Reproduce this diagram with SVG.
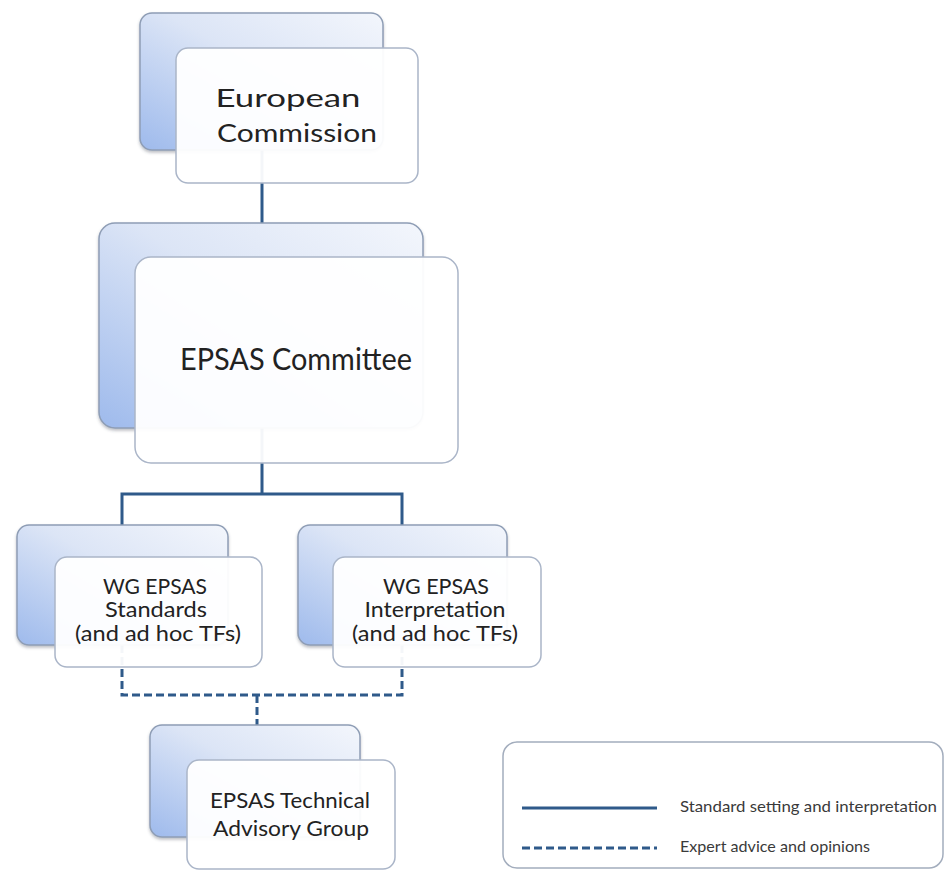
<svg xmlns="http://www.w3.org/2000/svg" width="945" height="871" viewBox="0 0 945 871">
<defs>
<linearGradient id="backGrad" x1="1" y1="0" x2="0" y2="1">
<stop offset="0" stop-color="#F3F6FC"/>
<stop offset="0.45" stop-color="#DCE5F6"/>
<stop offset="1" stop-color="#9EBAEC"/>
</linearGradient>
<filter id="shadow" x="-10%" y="-10%" width="120%" height="125%">
<feDropShadow dx="0" dy="2" stdDeviation="1.5" flood-color="#404A5A" flood-opacity="0.35"/>
</filter>
<style>
.back{fill:url(#backGrad);stroke:#8E9DB5;stroke-width:1.5;filter:url(#shadow)}
.front{fill:#FFFFFF;fill-opacity:0.95;stroke:#AAB5C8;stroke-width:1.5}
.solid{fill:none;stroke:#2F5A8A;stroke-width:3}
.dash{fill:none;stroke:#2F5A8A;stroke-width:3;stroke-dasharray:8 4}
.lbl{font-family:Lato,"Liberation Sans",sans-serif;fill:#222222;text-anchor:middle}
.leg{font-family:Lato,"Liberation Sans",sans-serif;fill:#3A3A3A;font-size:15px}
</style>
</defs>
<rect width="945" height="871" fill="#FFFFFF"/>

<g id="connectors">
<path class="solid" d="M262,150 V223"/>
<path class="solid" d="M262,428 V494 M122,525 V494 H402 V525"/>
<path class="dash" d="M122,645 V695 H402 V645 M257,695 V725"/>
</g>

<g id="european-commission">
<rect class="back" x="140" y="13" width="243" height="137" rx="12"/>
<rect class="front" x="176" y="48" width="242" height="135" rx="12"/>
<text class="lbl" font-size="25" x="288" y="107" textLength="145" lengthAdjust="spacingAndGlyphs">European</text>
<text class="lbl" font-size="25" x="297" y="142" textLength="160" lengthAdjust="spacingAndGlyphs">Commission</text>
</g>

<g id="epsas-committee">
<rect class="back" x="99" y="223" width="324" height="205" rx="16"/>
<rect class="front" x="135" y="257" width="323" height="206" rx="16"/>
<text class="lbl" font-size="30" x="296" y="370" textLength="232" lengthAdjust="spacingAndGlyphs">EPSAS Committee</text>
</g>

<g id="wg-standards">
<rect class="back" x="17" y="525" width="211" height="120" rx="12"/>
<rect class="front" x="55" y="557" width="207" height="110" rx="12"/>
<text class="lbl" font-size="21" x="155" y="594" textLength="104" lengthAdjust="spacingAndGlyphs">WG EPSAS</text>
<text class="lbl" font-size="21" x="156" y="617" textLength="102" lengthAdjust="spacingAndGlyphs">Standards</text>
<text class="lbl" font-size="21" x="158" y="641" textLength="166" lengthAdjust="spacingAndGlyphs">(and ad hoc TFs)</text>
</g>

<g id="wg-interpretation">
<rect class="back" x="298" y="525" width="209" height="120" rx="12"/>
<rect class="front" x="333" y="557" width="208" height="110" rx="12"/>
<text class="lbl" font-size="21" x="436" y="594" textLength="106" lengthAdjust="spacingAndGlyphs">WG EPSAS</text>
<text class="lbl" font-size="21" x="435" y="617" textLength="141" lengthAdjust="spacingAndGlyphs">Interpretation</text>
<text class="lbl" font-size="21" x="435" y="641" textLength="166" lengthAdjust="spacingAndGlyphs">(and ad hoc TFs)</text>
</g>

<g id="technical-advisory-group">
<rect class="back" x="150" y="725" width="210" height="112" rx="12"/>
<rect class="front" x="187" y="760" width="208" height="109" rx="12"/>
<text class="lbl" font-size="21" x="290" y="808" textLength="160" lengthAdjust="spacingAndGlyphs">EPSAS Technical</text>
<text class="lbl" font-size="21" x="291" y="836" textLength="156" lengthAdjust="spacingAndGlyphs">Advisory Group</text>
</g>

<g id="legend">
<rect x="503" y="742" width="440" height="126" rx="14" fill="#FFFFFF" stroke="#A3ADBD" stroke-width="1.5"/>
<line class="solid" x1="522" y1="808" x2="657" y2="808"/>
<line class="dash" x1="522" y1="848" x2="657" y2="848"/>
<text class="leg" x="680" y="812" textLength="257" lengthAdjust="spacingAndGlyphs">Standard setting and interpretation</text>
<text class="leg" x="680" y="852" textLength="190" lengthAdjust="spacingAndGlyphs">Expert advice and opinions</text>
</g>
</svg>
